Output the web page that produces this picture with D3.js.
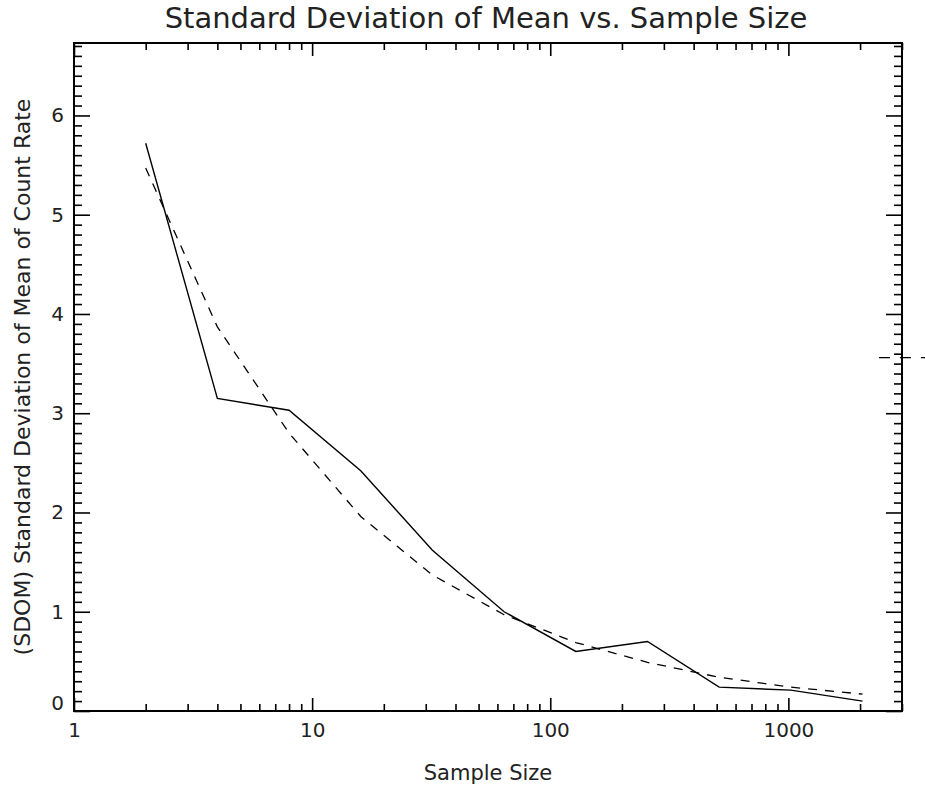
<!DOCTYPE html>
<html>
<head>
<meta charset="utf-8">
<script src="https://cdn.jsdelivr.net/npm/d3@7"></script>
<style>
  body { margin: 0; background: #fff; }
  text { font-family: "DejaVu Sans", sans-serif; fill: #222; }
</style>
</head>
<body>
<div id="chart"></div>
<script>
// Data
const sampleSizes = [2, 4, 8, 16, 32, 64, 128, 256, 512, 1024, 2048];
const sdomMeasured = [5.72, 3.15, 3.03, 2.42, 1.62, 1.0, 0.6, 0.7, 0.24, 0.21, 0.1];
const sdomExpected = [5.47, 3.87, 2.8, 1.96, 1.37, 0.97, 0.69, 0.49, 0.34, 0.24, 0.17];
const xMajorTicks = [1, 10, 100, 1000];
const xTickLabels = ["1", "10", "100", "1000"];
const yMajorTicks = [0, 1, 2, 3, 4, 5, 6];
// stray dashed stub poking out past the right axis
const strayX = [2400, 3900];
const strayY = [3.56, 3.56];

const W = 925, H = 786;
const margin = {top: 43, right: 23, bottom: 75, left: 74},
      width = W - margin.left - margin.right,
      height = H - margin.top - margin.bottom;

const svg = d3.select("#chart")
  .append("svg")
  .attr("width", W)
  .attr("height", H);

const g = svg.append("g")
  .attr("transform", `translate(${margin.left},${margin.top})`);

// Scales
const x = d3.scaleLog().domain([1, 3000]).range([0, width]);
const y = d3.scaleLinear().domain([0, 6.73]).range([height, 0]);

// minor ticks
const xMinor = [];
for (let d = 1; d <= 1000; d *= 10)
  for (let k = 2; k <= 9; k++) if (d * k <= 3000) xMinor.push(d * k);
const yMinor = d3.range(0, 68).map(i => i / 10).filter(v => v % 1 !== 0 && v <= 6.73);

const xMajLen = 13, xMinLen = 7, yMajLen = 16, yMinLen = 8;

// Bottom axis
const axBottom = g.append("g").attr("transform", `translate(0,${height})`);
axBottom.call(d3.axisBottom(x).tickValues(xMajorTicks).tickSize(-xMajLen).tickPadding(12)
  .tickFormat((d, i) => xTickLabels[i]));
axBottom.append("g").call(d3.axisBottom(x).tickValues(xMinor).tickSize(-xMinLen).tickFormat(""));

// Top axis
const axTop = g.append("g");
axTop.call(d3.axisTop(x).tickValues(xMajorTicks).tickSize(-xMajLen).tickFormat(""));
axTop.append("g").call(d3.axisTop(x).tickValues(xMinor).tickSize(-xMinLen).tickFormat(""));

// Left axis
const axLeft = g.append("g");
axLeft.call(d3.axisLeft(y).tickValues(yMajorTicks).tickSize(-yMajLen).tickPadding(10)
  .tickFormat(d3.format("d")));
axLeft.append("g").call(d3.axisLeft(y).tickValues(yMinor).tickSize(-yMinLen).tickFormat(""));
// the zero label sits a little above the corner
axLeft.selectAll(".tick text").filter(d => d === 0).attr("dy", "-0.08em");

// Right axis
const axRight = g.append("g").attr("transform", `translate(${width},0)`);
axRight.call(d3.axisRight(y).tickValues(yMajorTicks).tickSize(-yMajLen).tickFormat(""));
axRight.append("g").call(d3.axisRight(y).tickValues(yMinor).tickSize(-yMinLen).tickFormat(""));

// style the axes like an IDL plot
g.selectAll(".domain").remove();
g.selectAll(".tick line").attr("stroke", "#000").attr("stroke-width", 1.6);
g.selectAll(".tick text").style("font-size", "20px").attr("fill", "#222");

// frame
g.append("rect")
  .attr("width", width)
  .attr("height", height)
  .attr("fill", "none")
  .attr("stroke", "#000")
  .attr("stroke-width", 2);

// Lines
const line = d3.line().x(d => x(d[0])).y(d => y(d[1]));

g.append("path")
  .datum(sampleSizes.map((n, i) => [n, sdomExpected[i]]))
  .attr("fill", "none")
  .attr("stroke", "#000")
  .attr("stroke-width", 1.3)
  .attr("stroke-dasharray", "9,8")
  .attr("d", line);

g.append("path")
  .datum(sampleSizes.map((n, i) => [n, sdomMeasured[i]]))
  .attr("fill", "none")
  .attr("stroke", "#000")
  .attr("stroke-width", 1.4)
  .attr("d", line);

g.append("path")
  .datum(strayX.map((v, i) => [v, strayY[i]]))
  .attr("fill", "none")
  .attr("stroke", "#000")
  .attr("stroke-width", 1.3)
  .attr("stroke-dasharray", "11,10")
  .attr("d", line);

// Title
svg.append("text")
  .attr("x", margin.left + width / 2 - 2)
  .attr("y", 28)
  .attr("text-anchor", "middle")
  .style("font-size", "29px")
  .text("Standard Deviation of Mean vs. Sample Size");

// x-axis label
svg.append("text")
  .attr("x", margin.left + width / 2)
  .attr("y", 780)
  .attr("text-anchor", "middle")
  .style("font-size", "21px")
  .text("Sample Size");

// y-axis label
svg.append("text")
  .attr("transform", `translate(30,${margin.top + height / 2}) rotate(-90)`)
  .attr("text-anchor", "middle")
  .style("font-size", "22px")
  .text("(SDOM) Standard Deviation of Mean of Count Rate");
</script>
</body>
</html>
